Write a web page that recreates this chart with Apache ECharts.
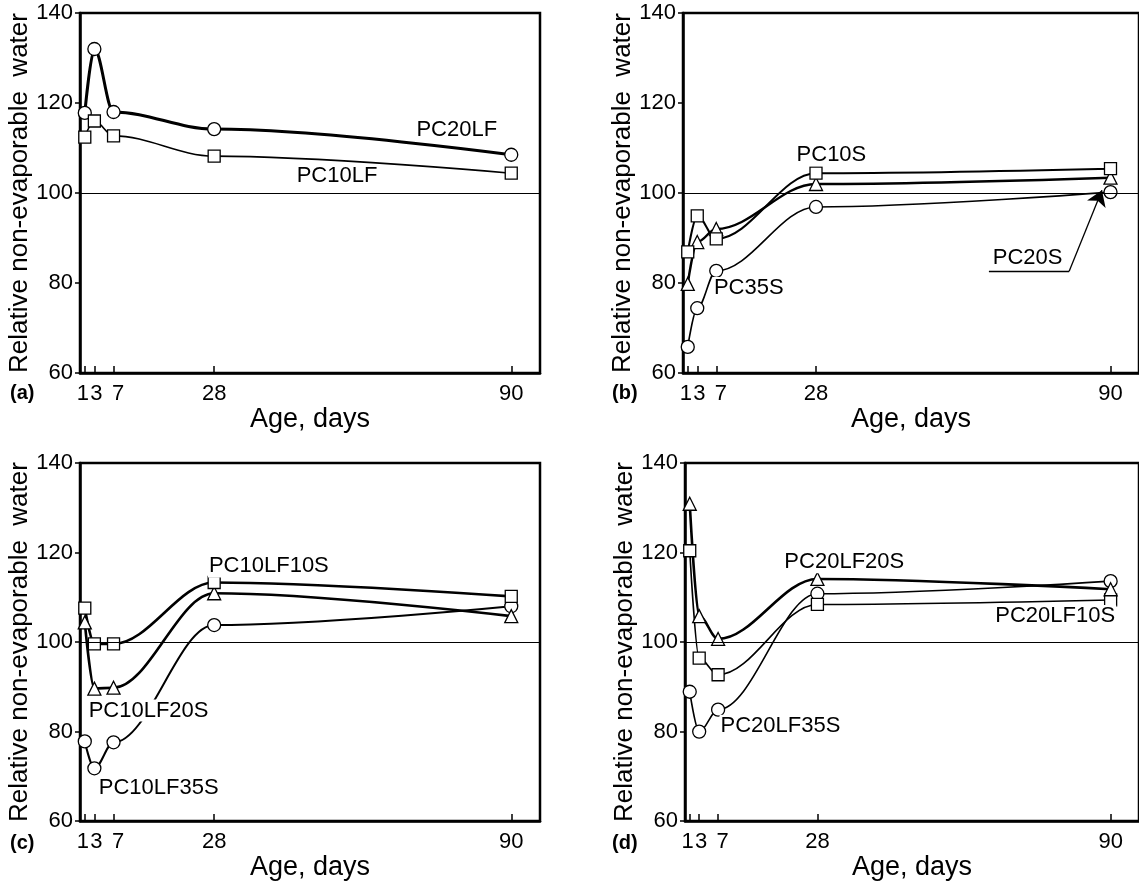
<!DOCTYPE html>
<html>
<head>
<meta charset="utf-8">
<title>Relative non-evaporable water</title>
<script src="https://cdn.jsdelivr.net/npm/echarts@6/dist/echarts.min.js"></script>
<style>
  html, body { margin: 0; padding: 0; background: #fff; }
  #main { width: 1139px; height: 882px; }
</style>
</head>
<body>
<div id="main"></div>
<script>
// age of the samples, days
var days = [1, 3, 7, 28, 90];
var xTicks = [1, 3, 7, 28, 90];
var yTicks = [60, 80, 100, 120, 140];

// (a)
var pc20lf = [117.8, 132, 118, 114.2, 108.5];
var pc10lf = [112.4, 116, 112.7, 108.2, 104.4];
// (b)
var pc10s = [86.9, 94.9, 89.8, 104.4, 105.4];
var pc20s = [79.8, 89.1, 92, 102, 103.4];
var pc35s = [65.8, 74.4, 82.7, 96.9, 100.2];
// (c)
var pc10lf10s = [107.6, 99.6, 99.6, 113.3, 110.2];
var pc10lf20s = [104.4, 89.6, 89.8, 110.9, 105.8];
var pc10lf35s = [77.8, 71.8, 77.6, 103.8, 108];
// (d)
var pc20lf20s = [130.9, 105.8, 100.7, 114.1, 111.8];
var pc20lf10s = [120.4, 96.4, 92.7, 108.4, 109.4];
var pc20lf35s = [88.9, 80, 84.9, 110.8, 113.6];

var FONT = 'Liberation Sans, Arial, Helvetica, sans-serif';

var myChart = echarts.init(document.getElementById('main'));

// grid boxes of the four panels
var grids = [
  { left: 80, top: 13, width: 460, height: 360 },
  { left: 683, top: 13, width: 460, height: 360 },
  { left: 80, top: 463, width: 460, height: 360 },
  { left: 685, top: 463, width: 460, height: 360 }
];

function makeX(i) {
  return {
    type: 'value', gridIndex: i, min: 0, max: 96,
    name: 'Age, days', nameLocation: 'middle', nameGap: 22,
    nameTextStyle: { fontSize: 27, color: '#000', fontFamily: FONT },
    axisLine: { lineStyle: { color: '#000', width: 2.5 } },
    axisTick: { inside: true, length: 7, customValues: xTicks, lineStyle: { color: '#000', width: 1.5 } },
    axisLabel: {
      customValues: xTicks, showMinLabel: true, showMaxLabel: true, hideOverlap: false,
      fontSize: 22, color: '#000', fontFamily: FONT, margin: 10,
      // the labels of 1, 3 and 7 sit a little apart in the original
      formatter: function (v) {
        if (v === 1) return '{l|1}';
        if (v === 3) return '{r|3}';
        if (v === 7) return '{s|7}';
        return String(v);
      },
      rich: {
        l: { fontSize: 22, fontFamily: FONT, padding: [0, 4, 0, 0] },
        r: { fontSize: 22, fontFamily: FONT, padding: [0, 0, 0, 4] },
        s: { fontSize: 22, fontFamily: FONT, padding: [0, 0, 0, 9] }
      }
    },
    splitLine: { show: false }
  };
}

function makeY(i) {
  return {
    type: 'value', gridIndex: i, min: 60, max: 140, interval: 20,
    name: 'Relative non-evaporable  water', nameLocation: 'middle', nameGap: 45,
    nameTextStyle: { fontSize: 26, color: '#000', fontFamily: FONT },
    axisLine: { show: true, lineStyle: { color: '#000', width: 2.5 } },
    axisTick: { show: true, length: 5, lineStyle: { color: '#000', width: 1.5 } },
    axisLabel: { fontSize: 22, color: '#000', fontFamily: FONT, margin: 7 },
    splitLine: { show: false }
  };
}

function pts(vals) {
  return days.map(function (d, k) { return [d, vals[k]]; });
}

function curve(i, name, vals, sym, width) {
  return {
    name: name, type: 'line', xAxisIndex: i, yAxisIndex: i,
    data: pts(vals), smooth: 0.35, smoothMonotone: 'x',
    symbol: sym, symbolSize: sym === 'rect' ? 12 : 13,
    lineStyle: { color: '#000', width: width },
    itemStyle: { color: '#fff', borderColor: '#000', borderWidth: 1.3 },
    z: 3
  };
}

// text labels next to the curves, in data coordinates
function notes(i, list, lines) {
  return {
    type: 'scatter', xAxisIndex: i, yAxisIndex: i, data: [], silent: true, z: 6,
    markPoint: {
      symbol: 'circle', symbolSize: 0, silent: true,
      label: {
        show: true, position: 'right', distance: 0,
        fontSize: 22, color: '#000', fontFamily: FONT,
        backgroundColor: '#fff', padding: [0, 1],
        formatter: function (p) { return p.name; }
      },
      data: list.map(function (l) { return { name: l[0], coord: [l[1], l[2]] }; })
    },
    markLine: lines || undefined
  };
}

// horizontal reference at 100
function ref(i) {
  return {
    type: 'line', xAxisIndex: i, yAxisIndex: i, data: [], silent: true, z: 1,
    markLine: {
      silent: true, symbol: ['none', 'none'], label: { show: false },
      lineStyle: { color: '#000', width: 1, type: 'solid' },
      data: [{ yAxis: 100 }]
    }
  };
}

var series = [
  ref(0), ref(1), ref(2), ref(3),
  curve(0, 'PC20LF', pc20lf, 'circle', 3),
  curve(0, 'PC10LF', pc10lf, 'rect', 1.6),
  curve(1, 'PC35S', pc35s, 'circle', 1.6),
  curve(1, 'PC20S', pc20s, 'triangle', 2.4),
  curve(1, 'PC10S', pc10s, 'rect', 2),
  curve(2, 'PC10LF35S', pc10lf35s, 'circle', 2),
  curve(2, 'PC10LF20S', pc10lf20s, 'triangle', 2.6),
  curve(2, 'PC10LF10S', pc10lf10s, 'rect', 2.6),
  curve(3, 'PC20LF35S', pc20lf35s, 'circle', 1.6),
  curve(3, 'PC20LF10S', pc20lf10s, 'rect', 1.6),
  curve(3, 'PC20LF20S', pc20lf20s, 'triangle', 2.6),
  notes(0, [['PC20LF', 70, 114], ['PC10LF', 45, 103.8]]),
  notes(1, [['PC10S', 23.7, 108.4], ['PC35S', 6.3, 78.9], ['PC20S', 65, 85.6]], {
    silent: true, symbol: ['none', 'none'], symbolSize: 15, label: { show: false },
    lineStyle: { color: '#000', width: 1.3, type: 'solid' },
    data: [
      [{ coord: [64.4, 82.6] }, { coord: [81.3, 82.6] }],
      [{ coord: [81.3, 82.6] }, { coord: [88.2, 100.6], symbol: 'arrow', symbolSize: 15 }]
    ]
  }),
  notes(2, [['PC10LF10S', 26.7, 116.9], ['PC10LF20S', 1.6, 84.7], ['PC10LF35S', 3.7, 67.3]]),
  notes(3, [['PC20LF20S', 20.8, 117.8], ['PC20LF10S', 65.4, 105.8], ['PC20LF35S', 7.3, 81.3]])
];

var panelLetters = ['(a)', '(b)', '(c)', '(d)'].map(function (t, k) {
  return {
    type: 'text', left: k % 2 === 0 ? 10 : 612, top: k < 2 ? 383 : 833,
    style: { text: t, font: 'bold 20px ' + FONT, fill: '#000' }
  };
});

var option = {
  animation: false,
  backgroundColor: '#fff',
  grid: grids.map(function (g) {
    return Object.assign({ show: true, borderColor: '#000', borderWidth: 2.5, backgroundColor: 'transparent' }, g);
  }),
  xAxis: [makeX(0), makeX(1), makeX(2), makeX(3)],
  yAxis: [makeY(0), makeY(1), makeY(2), makeY(3)],
  series: series,
  graphic: panelLetters
};

myChart.setOption(option);
</script>
</body>
</html>
